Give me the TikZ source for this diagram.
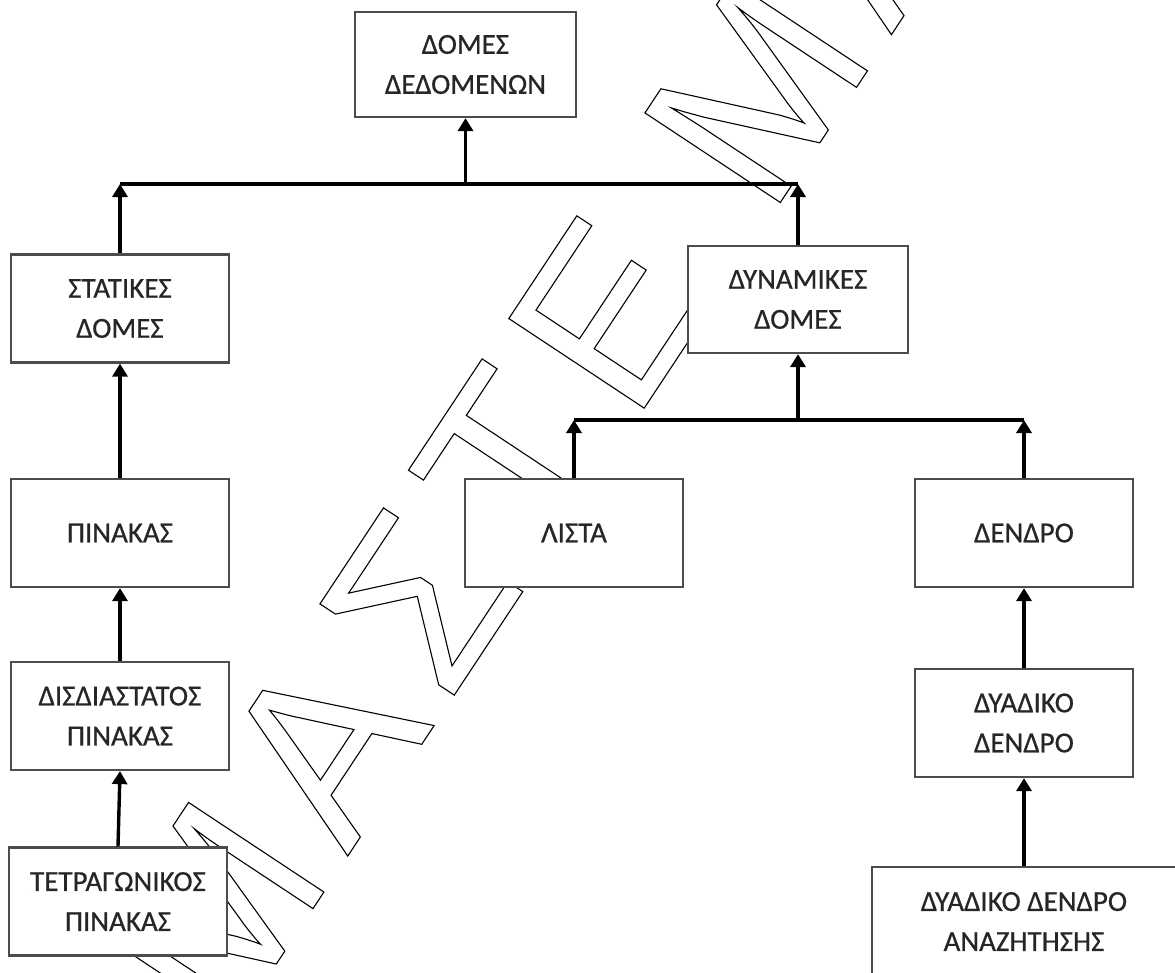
\documentclass[tikz,border=0pt]{standalone}
\usepackage{fontspec}
\setmainfont[FakeBold=0.6]{Carlito}
\newfontfamily\markfont[LetterSpace=10]{Liberation Sans}
\usetikzlibrary{arrows.meta}

\begin{document}
\begin{tikzpicture}[x=1pt, y=-1pt]
\useasboundingbox [fill=white] (0,0) rectangle (1175,972);

% outlined watermark behind the boxes
\begin{scope}
    \node (mark) at (226,1040) [anchor=base west, rotate=56.5, inner sep=0pt]
        {\fontsize{236}{236}\markfont\special{pdf:literal direct 1 Tr 1.1 w}ΜΑΣΤΕ ΜΑ\special{pdf:literal direct 0 Tr}};
\end{scope}

\begin{scope}[every node/.style={rectangle, draw=black!70, line width=2.2pt, fill=white,
              text=black!85, align=center, inner sep=0pt,
              minimum width=218pt, minimum height=108pt,
              font=\fontsize{29}{40}\selectfont}]
    \node (domes) at (465.5,64.5) [minimum width=221pt, minimum height=105pt] {ΔΟΜΕΣ\\ΔΕΔΟΜΕΝΩΝ};

    \node (statikes) at (120,308.5) {ΣΤΑΤΙΚΕΣ\\ΔΟΜΕΣ};
    \node (pinakas) at (120,533) {ΠΙΝΑΚΑΣ};
    \node (disdiast) at (120,716) {ΔΙΣΔΙΑΣΤΑΤΟΣ\\ΠΙΝΑΚΑΣ};
    \node (tetrag) at (118,901.5) {ΤΕΤΡΑΓΩΝΙΚΟΣ\\ΠΙΝΑΚΑΣ};

    \node (dynamikes) at (798,299.5) [minimum width=220pt, minimum height=107pt] {ΔΥΝΑΜΙΚΕΣ\\ΔΟΜΕΣ};
    \node (lista) at (574,533) {ΛΙΣΤΑ};
    \node (dendro) at (1024,533) {ΔΕΝΔΡΟ};
    \node (dyadiko) at (1024,723) {ΔΥΑΔΙΚΟ\\ΔΕΝΔΡΟ};
    \node (anazitisis) at (1024,921.5) [minimum width=304pt, minimum height=109pt] {ΔΥΑΔΙΚΟ ΔΕΝΔΡΟ\\ΑΝΑΖΗΤΗΣΗΣ};
\end{scope}

\coordinate (bustop) at (465.5,184);
\coordinate (busdyn) at (798,420);

\begin{scope}[>={Triangle[width=15pt,length=13pt]},
              every edge/.style={draw=black, line width=3.4pt}]
    \path (statikes.north |- bustop) edge (dynamikes.north |- bustop);
    \path [->] (domes.south |- bustop) edge (domes.south);
    \path [->] (statikes.north) edge (statikes.north |- bustop);
    \path [->] (dynamikes.north) edge (dynamikes.north |- bustop);

    \path [->] (pinakas.north) edge (statikes.south);
    \path [->] (disdiast.north) edge (pinakas.south);
    \path [->] (tetrag.north) edge (disdiast.south);

    \path (lista.north |- busdyn) edge (dendro.north |- busdyn);
    \path [->] (dynamikes.south |- busdyn) edge (dynamikes.south);
    \path [->] (lista.north) edge (lista.north |- busdyn);
    \path [->] (dendro.north) edge (dendro.north |- busdyn);

    \path [->] (dyadiko.north) edge (dendro.south);
    \path [->] (anazitisis.north) edge (dyadiko.south);
\end{scope}
\end{tikzpicture}
\end{document}
